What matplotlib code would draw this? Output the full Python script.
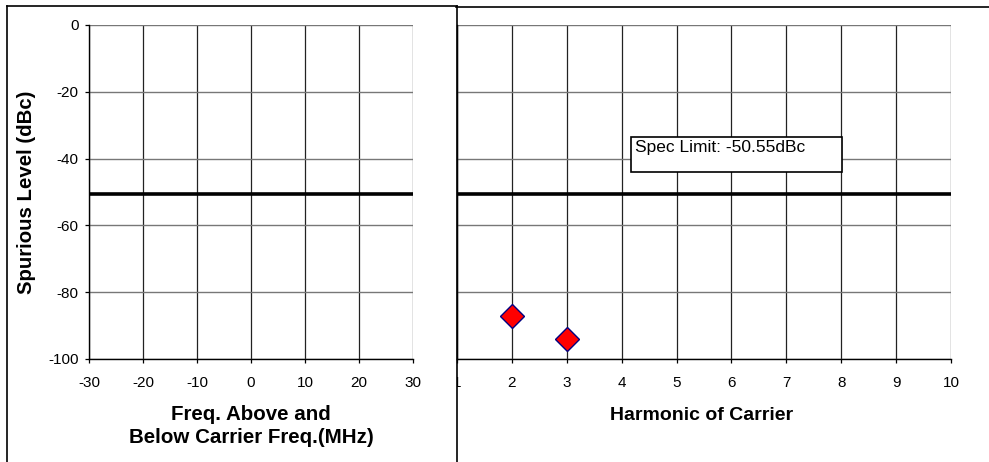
import matplotlib
matplotlib.use("Agg")
import matplotlib.pyplot as plt
from matplotlib.lines import Line2D
from matplotlib.patches import Rectangle
from matplotlib.transforms import Bbox, TransformedBbox

plt.rcParams['font.family'] = ['Liberation Sans', 'DejaVu Sans']
plt.rcParams['axes.unicode_minus'] = False

# Data
spec_limit = -50.55
harmonics = [2, 3]
harmonic_levels = [-87, -94]
offset_ticks = [-30, -20, -10, 0, 10, 20, 30]
level_ticks = [0, -20, -40, -60, -80, -100]
harmonic_ticks = [1, 2, 3, 4, 5, 6, 7, 8, 9, 10]

W, H = 989, 462
fig = plt.figure(figsize=(W / 100, H / 100), dpi=100)
fig.patch.set_facecolor('white')


def px(x, y):
    return x / W, 1 - y / H


ax1 = fig.add_axes([89 / W, 1 - 359 / H, (413 - 89) / W, (359 - 25) / H])
ax2 = fig.add_axes([457 / W, 1 - 359 / H, (951 - 457) / W, (359 - 25) / H])

for ax in (ax1, ax2):
    ax.set_ylim(-100, 0)
    ax.set_yticks(level_ticks)
    ax.spines['top'].set_visible(False)
    ax.spines['right'].set_visible(False)
    ax.spines['left'].set_linewidth(1.0)
    ax.spines['bottom'].set_linewidth(1.0)
    ax.set_axisbelow(True)
    ax.xaxis.grid(True, color='#222222', linewidth=0.9)
    ax.yaxis.grid(True, color='#777777', linewidth=1.0)
    ax.tick_params(axis='x', direction='out', length=3, width=0.9, pad=9, labelsize=11)
    ax.tick_params(axis='y', direction='out', length=3, width=0.9, pad=4.5, labelsize=11)
    ax.axhline(spec_limit, color='black', linewidth=2.6, zorder=3)

# Left: offset spurious
ax1.set_xlim(-30, 30)
ax1.set_xticks(offset_ticks)

# Right: harmonics
ax2.set_xlim(1, 10)
ax2.set_xticks(harmonic_ticks)
ax2.tick_params(axis='y', length=0, labelleft=False)
ax2.plot(harmonics, harmonic_levels, linestyle='none', marker='D', markersize=12,
         markerfacecolor='#ff0000', markeredgecolor='#000080', markeredgewidth=1.0,
         zorder=4, clip_on=False)

# Spec limit annotation box
ax2.add_patch(Rectangle((4.17, -44.0), 3.84, 10.5, facecolor='white',
                        edgecolor='black', linewidth=1.2, zorder=5))
ax2.text(4.25, -34.3, 'Spec Limit: %.2fdBc' % spec_limit, ha='left', va='top',
         fontsize=12.5, zorder=6)

# Axis titles
fig.text(*px(27, 192), 'Spurious Level (dBc)', rotation=90, ha='center', va='center',
         fontsize=14.7, fontweight='bold')
fig.text(*px(251, 426), 'Freq. Above and\nBelow Carrier Freq.(MHz)', ha='center',
         va='center', multialignment='center', linespacing=1.25,
         fontsize=14.8, fontweight='bold')
fig.text(*px(702, 415), 'Harmonic of Carrier', ha='center', va='center',
         fontsize=14, fontweight='bold')

# Chart frames
def frame_line(x0, y0, x1, y1):
    (a, b), (c, d) = px(x0, y0), px(x1, y1)
    fig.add_artist(Line2D([a, c], [b, d], color='black', linewidth=1.2,
                          transform=fig.transFigure))

frame_line(7, 6, 457, 6)
frame_line(7, 6, 7, H)
frame_line(457, 6, 457, H)
frame_line(456, 7, W, 7)

# The right chart's first tick label is cut by its frame
fig.canvas.draw()
clip = TransformedBbox(Bbox.from_extents(457 / W, 0, 1, 1), fig.transFigure)
first = ax2.get_xticklabels()[0]
first.set_clip_box(clip)
first.set_clip_on(True)

fig.savefig('out.png', dpi=100, facecolor='white')
